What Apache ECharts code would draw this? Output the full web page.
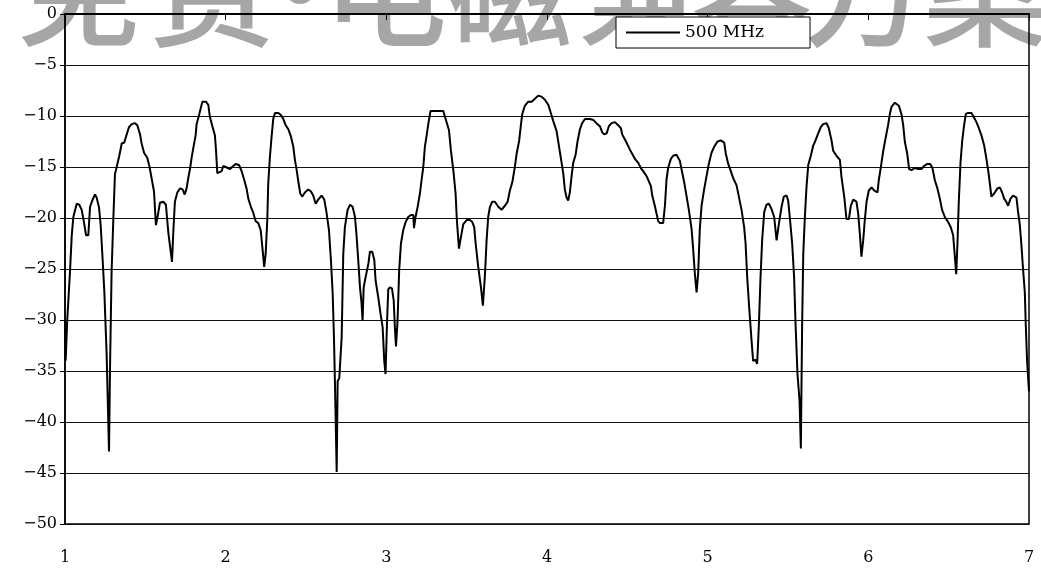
<!DOCTYPE html>
<html>
<head>
<meta charset="utf-8">
<script src="https://cdn.jsdelivr.net/npm/echarts@6/dist/echarts.min.js"></script>
<style>
html,body{margin:0;padding:0;background:#fff;}
#chart{width:1041px;height:574px;}
</style>
</head>
<body>
<div id="chart"></div>
<script>
// ---- data ----
var seriesName = '500 MHz';
var xTickLabels = ['1', '2', '3', '4', '5', '6', '7'];
var yTickLabels = ['0', '\u22125', '\u221210', '\u221215', '\u221220', '\u221225', '\u221230', '\u221235', '\u221240', '\u221245', '\u221250'];
var watermarkChars = ['免', '费', '·', '电', '磁', '兼', '容', '方', '案'];

var posX = [
  1.000, 1.004, 1.014, 1.031, 1.042, 1.052, 1.073, 1.089, 1.104, 1.118, 1.131, 1.145, 1.156, 1.172, 1.187, 1.197,
  1.212, 1.222, 1.234, 1.245, 1.259, 1.274, 1.280, 1.290, 1.301, 1.311, 1.326, 1.338, 1.353, 1.369, 1.384, 1.398,
  1.415, 1.436, 1.450, 1.467, 1.477, 1.492, 1.512, 1.525, 1.539, 1.554, 1.566, 1.575, 1.591, 1.612, 1.628, 1.643,
  1.658, 1.666, 1.674, 1.684, 1.699, 1.716, 1.732, 1.745, 1.757, 1.767, 1.778, 1.788, 1.799, 1.813, 1.819, 1.836,
  1.855, 1.877, 1.892, 1.902, 1.919, 1.933, 1.940, 1.948, 1.960, 1.975, 1.985, 2.000,
  2.027, 2.047, 2.062, 2.083, 2.099, 2.116, 2.130, 2.141, 2.157, 2.172, 2.186, 2.203, 2.218, 2.228, 2.240, 2.249,
  2.259, 2.265, 2.276, 2.286, 2.296, 2.307, 2.328, 2.344, 2.359, 2.373, 2.390, 2.406, 2.421, 2.431, 2.442, 2.452,
  2.464, 2.477, 2.493, 2.514, 2.531, 2.545, 2.560, 2.576, 2.597, 2.614, 2.628, 2.643, 2.655, 2.666, 2.674, 2.680,
  2.691, 2.697, 2.707, 2.722, 2.732, 2.742, 2.759, 2.774, 2.790, 2.805, 2.815, 2.825, 2.836, 2.846, 2.852, 2.859,
  2.871, 2.888, 2.898, 2.912, 2.925, 2.933, 2.950, 2.964, 2.977, 2.987, 2.995, 3.004, 3.012, 3.022, 3.035, 3.046,
  3.053, 3.060, 3.070, 3.080, 3.091, 3.105, 3.120, 3.136, 3.153, 3.168, 3.172, 3.182, 3.195, 3.209, 3.219, 3.230,
  3.240, 3.251, 3.261, 3.275, 3.302, 3.354, 3.371, 3.390, 3.402, 3.417, 3.431, 3.439, 3.452, 3.464, 3.479, 3.500,
  3.520, 3.535, 3.547, 3.556, 3.572, 3.589, 3.601, 3.614, 3.624, 3.634, 3.645, 3.659, 3.676, 3.697, 3.717, 3.738,
  3.755, 3.769, 3.784, 3.800, 3.811, 3.827, 3.836, 3.846, 3.862, 3.883, 3.904, 3.925, 3.945, 3.966, 3.987, 4.008,
  4.024, 4.039, 4.060, 4.074, 4.087, 4.101, 4.111, 4.122, 4.132, 4.142, 4.153, 4.163, 4.178, 4.190, 4.205, 4.219,
  4.236, 4.267, 4.288, 4.308, 4.329, 4.344, 4.356, 4.371, 4.385, 4.402, 4.423, 4.443, 4.460, 4.468, 4.485, 4.501,
  4.516, 4.530, 4.547, 4.568, 4.584, 4.599, 4.620, 4.634, 4.647, 4.655, 4.671, 4.692, 4.703, 4.723, 4.734, 4.744,
  4.754, 4.771, 4.785, 4.806, 4.817, 4.827, 4.837, 4.854, 4.868, 4.883, 4.900, 4.910, 4.920, 4.931, 4.941, 4.951,
  4.962, 4.978, 4.993, 5.007, 5.024, 5.041, 5.061, 5.082, 5.103, 5.113, 5.128, 5.142, 5.159, 5.180, 5.194, 5.211,
  5.227, 5.236, 5.246, 5.258, 5.273, 5.283, 5.298, 5.308, 5.319, 5.329, 5.339, 5.352, 5.366, 5.381, 5.397, 5.414,
  5.429, 5.443, 5.460, 5.474, 5.491, 5.501, 5.511, 5.526, 5.538, 5.547, 5.559, 5.572, 5.580, 5.588, 5.595, 5.605,
  5.615, 5.626, 5.642, 5.657, 5.671, 5.688, 5.704, 5.719, 5.740, 5.754, 5.771, 5.781, 5.802, 5.823, 5.833, 5.850,
  5.864, 5.879, 5.891, 5.906, 5.926, 5.937, 5.947, 5.957, 5.968, 5.978, 5.989, 6.003, 6.020, 6.036, 6.057, 6.065,
  6.078, 6.092, 6.107, 6.123, 6.134, 6.144, 6.165, 6.175, 6.190, 6.206, 6.217, 6.227, 6.242, 6.254, 6.269, 6.289,
  6.310, 6.331, 6.347, 6.368, 6.385, 6.399, 6.414, 6.430, 6.445, 6.459, 6.476, 6.497, 6.513, 6.528, 6.538, 6.547,
  6.555, 6.563, 6.574, 6.584, 6.596, 6.607, 6.621, 6.642, 6.656, 6.673, 6.688, 6.704, 6.721, 6.735, 6.750, 6.766,
  6.783, 6.804, 6.818, 6.833, 6.845, 6.858, 6.870, 6.885, 6.901, 6.922, 6.932, 6.943, 6.953, 6.963, 6.974, 6.980,
  6.988, 7.000
];

var levelDb = [
  -30.0, -34.0, -30.0, -25.3, -21.7, -19.9, -18.6, -18.7, -19.2, -20.4, -21.7, -21.7, -18.9, -18.2, -17.7, -18.0,
  -19.0, -20.7, -24.0, -27.3, -33.3, -42.9, -34.9, -25.3, -20.0, -15.7, -14.7, -13.9, -12.7, -12.6, -11.8, -11.1,
  -10.8, -10.7, -10.9, -11.8, -12.7, -13.6, -14.1, -14.9, -16.1, -17.4, -20.7, -20.0, -18.5, -18.4, -18.7, -21.4,
  -23.3, -24.3, -21.4, -18.4, -17.5, -17.1, -17.2, -17.7, -17.1, -16.1, -15.2, -14.1, -13.1, -11.9, -10.8, -9.8,
  -8.6, -8.6, -8.9, -10.1, -11.1, -11.9, -13.4, -15.6, -15.7, -15.4, -14.9, -15.0,
  -15.2, -14.9, -14.7, -14.8, -15.4, -16.3, -17.1, -18.1, -18.9, -19.5, -20.3, -20.5, -21.2, -22.8, -24.8, -23.5,
  -20.2, -16.6, -13.9, -12.0, -10.3, -9.7, -9.7, -9.9, -10.3, -10.9, -11.3, -12.0, -13.0, -14.3, -15.3, -16.4,
  -17.6, -17.9, -17.5, -17.2, -17.4, -17.8, -18.6, -18.2, -17.8, -18.2, -19.5, -21.2, -24.1, -27.4, -31.7, -36.0,
  -44.9, -36.0, -35.7, -31.7, -23.5, -20.9, -19.2, -18.7, -18.9, -19.9, -21.8, -24.1, -26.8, -28.4, -30.1, -26.8,
  -25.8, -24.5, -23.3, -23.3, -24.1, -26.1, -27.8, -29.4, -30.7, -34.0, -35.3, -30.4, -27.0, -26.8, -26.9, -28.1,
  -30.7, -32.6, -30.0, -25.1, -22.5, -21.2, -20.4, -19.9, -19.7, -19.7, -21.0, -19.9, -18.9, -17.6, -16.3, -15.0,
  -13.0, -11.9, -10.8, -9.5, -9.5, -9.5, -10.4, -11.4, -13.4, -15.3, -17.6, -20.2, -23.0, -21.9, -20.6, -20.2,
  -20.2, -20.4, -20.9, -22.5, -24.8, -26.8, -28.6, -25.5, -22.2, -19.9, -18.9, -18.4, -18.4, -18.9, -19.2, -18.8,
  -18.4, -17.3, -16.5, -15.0, -13.7, -12.4, -11.1, -9.8, -9.0, -8.6, -8.6, -8.3, -8.0, -8.1, -8.4, -8.9,
  -9.7, -10.5, -11.5, -12.9, -14.2, -15.6, -17.2, -18.0, -18.3, -17.5, -15.9, -14.6, -13.8, -12.5, -11.3, -10.7,
  -10.3, -10.3, -10.4, -10.7, -11.0, -11.6, -11.8, -11.7, -11.0, -10.7, -10.6, -10.9, -11.2, -11.8, -12.3, -12.8,
  -13.3, -13.7, -14.2, -14.6, -15.1, -15.4, -15.9, -16.4, -16.9, -17.8, -18.8, -20.3, -20.5, -20.5, -18.8, -16.2,
  -15.1, -14.2, -13.9, -13.8, -13.9, -14.4, -15.2, -16.5, -17.8, -19.2, -21.1, -23.1, -25.4, -27.3, -25.4, -21.1,
  -18.8, -17.2, -15.9, -14.7, -13.6, -13.0, -12.5, -12.4, -12.6, -13.7, -14.7, -15.3, -16.1, -16.8, -17.9, -19.2,
  -20.9, -22.5, -25.8, -28.7, -32.0, -34.0, -33.9, -34.3, -30.4, -25.8, -22.2, -19.4, -18.7, -18.6, -19.1, -19.9,
  -22.2, -20.6, -18.9, -17.9, -17.8, -18.3, -19.9, -22.5, -25.8, -30.4, -35.3, -37.9, -42.6, -30.4, -23.5, -19.9,
  -17.0, -14.8, -13.9, -12.9, -12.4, -11.7, -11.1, -10.8, -10.7, -11.2, -12.4, -13.4, -13.9, -14.3, -16.0, -17.9,
  -20.1, -20.1, -18.8, -18.2, -18.4, -19.6, -21.5, -23.8, -22.2, -20.2, -18.4, -17.3, -17.0, -17.3, -17.5, -16.3,
  -15.0, -13.5, -12.2, -10.9, -9.8, -9.1, -8.7, -8.6, -9.0, -9.8, -10.9, -12.5, -13.7, -15.2, -15.3, -15.1,
  -15.2, -15.2, -14.9, -14.7, -14.7, -15.1, -16.3, -17.1, -18.1, -19.2, -19.9, -20.4, -20.9, -21.7, -23.7, -25.5,
  -22.4, -18.4, -14.5, -12.5, -10.9, -9.8, -9.7, -9.7, -10.1, -10.6, -11.2, -11.9, -12.9, -14.2, -15.8, -17.9,
  -17.6, -17.1, -17.0, -17.5, -18.1, -18.4, -18.8, -18.1, -17.8, -18.0, -19.4, -20.7, -22.7, -25.0, -27.3, -30.5,
  -34.0, -37.0
];
// ---------------------------------------

var lineData = posX.map(function (x, i) { return [x, levelDb[i]]; });

var wmCenters = [78, 212, 300, 385, 510, 640, 752, 865, 985];
var wmGraphics = watermarkChars.map(function (ch, i) {
  return {
    type: 'text',
    x: wmCenters[i],
    y: 52,
    z: -10,
    silent: true,
    style: {
      text: ch,
      fill: '#a6a6a6',
      font: '500 124px "Noto Sans CJK SC"',
      textAlign: 'center',
      textVerticalAlign: 'bottom'
    }
  };
});

var chart = echarts.init(document.getElementById('chart'), null, { renderer: 'canvas' });
var serif = '"DejaVu Serif", "Liberation Serif", serif';

chart.setOption({
  animation: false,
  backgroundColor: '#fff',
  graphic: wmGraphics,
  grid: {
    left: 65, right: 12, top: 14, bottom: 50,
    show: true, borderColor: '#000', borderWidth: 1.5, backgroundColor: 'transparent'
  },
  legend: {
    data: [{ name: seriesName, icon: 'rect' }],
    left: 616, top: 17,
    padding: [7, 46, 7, 10],
    backgroundColor: '#fff',
    borderColor: '#000',
    borderWidth: 1,
    borderRadius: 0,
    itemWidth: 54,
    itemHeight: 2,
    itemStyle: { color: '#000', borderWidth: 0 },
    textStyle: { fontFamily: serif, fontSize: 17, color: '#000', lineHeight: 17 }
  },
  xAxis: {
    type: 'value',
    min: 1, max: 7, interval: 1,
    axisLine: { show: true, lineStyle: { color: '#000', width: 2 } },
    axisTick: { show: true, length: 6, lineStyle: { color: '#000', width: 1 } },
    axisLabel: {
      margin: 26, color: '#000', fontFamily: serif, fontSize: 16,
      formatter: function (v) { return xTickLabels[Math.round(v) - 1]; }
    },
    splitLine: { show: false }
  },
  yAxis: {
    type: 'value',
    min: -50, max: 0, interval: 5,
    axisLine: { show: true, lineStyle: { color: '#000', width: 1.5 } },
    axisTick: { show: true, length: 5, lineStyle: { color: '#000', width: 1 } },
    axisLabel: {
      margin: 8, color: '#000', fontFamily: serif, fontSize: 16,
      formatter: function (v) { return yTickLabels[Math.round(-v / 5)]; }
    },
    splitLine: { show: true, lineStyle: { color: '#111', width: 1.2 } }
  },
  series: [{
    name: seriesName,
    type: 'line',
    data: lineData,
    symbol: 'none',
    showSymbol: false,
    smooth: false,
    clip: false,
    lineStyle: { color: '#000', width: 2 },
    itemStyle: { color: '#000' },
    z: 5
  }]
});
</script>
</body>
</html>
